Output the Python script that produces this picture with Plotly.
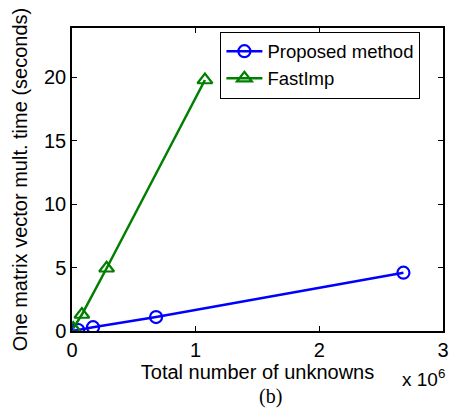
import plotly.graph_objects as go

proposed_x = [0.005e6, 0.05e6, 0.17e6, 0.68e6, 2.68e6]
proposed_y = [0.02, 0.08, 0.3, 1.1, 4.6]
fastimp_x = [0.01e6, 0.08e6, 0.28e6, 1.075e6]
fastimp_y = [0.2, 1.3, 4.95, 19.8]
x_ticks = [0, 1e6, 2e6, 3e6]
x_ticklabels = ["0", "1", "2", "3"]
y_ticks = [0, 5, 10, 15, 20]

font = "Liberation Sans, Arial, sans-serif"
fig = go.Figure()
fig.add_trace(go.Scatter(x=proposed_x, y=proposed_y, mode="lines+markers", name="Proposed method",
                         line=dict(color="#0000ff", width=2.5),
                         marker=dict(symbol="circle-open", size=12, line=dict(width=2.2, color="#0000ff"))))
fig.add_trace(go.Scatter(x=fastimp_x, y=fastimp_y, mode="lines+markers", name="FastImp",
                         line=dict(color="#007f00", width=2.5),
                         marker=dict(symbol="triangle-up-open", size=13, line=dict(width=2.2, color="#007f00"))))

fig.update_layout(
    width=454, height=409, margin=dict(l=72, r=11, t=28, b=78, autoexpand=False),
    paper_bgcolor="white", plot_bgcolor="white",
    font=dict(family=font, size=20, color="black"),
    showlegend=True,
    legend=dict(x=0.40, y=0.988, xanchor="left", yanchor="top", bordercolor="black", borderwidth=1,
                bgcolor="white", font=dict(size=18.5), tracegroupgap=0, itemwidth=36),
    xaxis=dict(range=[0, 3e6], tickvals=x_ticks, ticktext=x_ticklabels, showgrid=False, zeroline=False,
               showline=True, linecolor="black", linewidth=1.5, mirror="ticks", ticks="inside",
               ticklen=5, tickcolor="black", automargin=False, tickfont=dict(size=20),
               title=dict(text="Total number of unknowns", font=dict(size=20), standoff=4)),
    yaxis=dict(range=[0, 23.9], tickvals=y_ticks, showgrid=False, zeroline=False,
               showline=True, linecolor="black", linewidth=1.5, mirror="ticks", ticks="inside",
               ticklen=5, tickcolor="black", automargin=False, tickfont=dict(size=20),
               title=dict(text="One matrix vector mult. time (seconds)", font=dict(size=20), standoff=11)),
)
fig.add_annotation(text="x 10<sup>6</sup>", xref="paper", yref="paper", x=1.01, y=-0.155,
                   xanchor="right", yanchor="middle", showarrow=False, font=dict(size=19))
fig.add_annotation(text="(b)", xref="paper", yref="paper", x=0.535, y=-0.215, xanchor="center",
                   yanchor="middle", showarrow=False, font=dict(family="Liberation Serif, Times New Roman, serif", size=20))
fig.write_html("out.html", config={"displayModeBar": False},
               post_script="document.body.style.margin='0';")
